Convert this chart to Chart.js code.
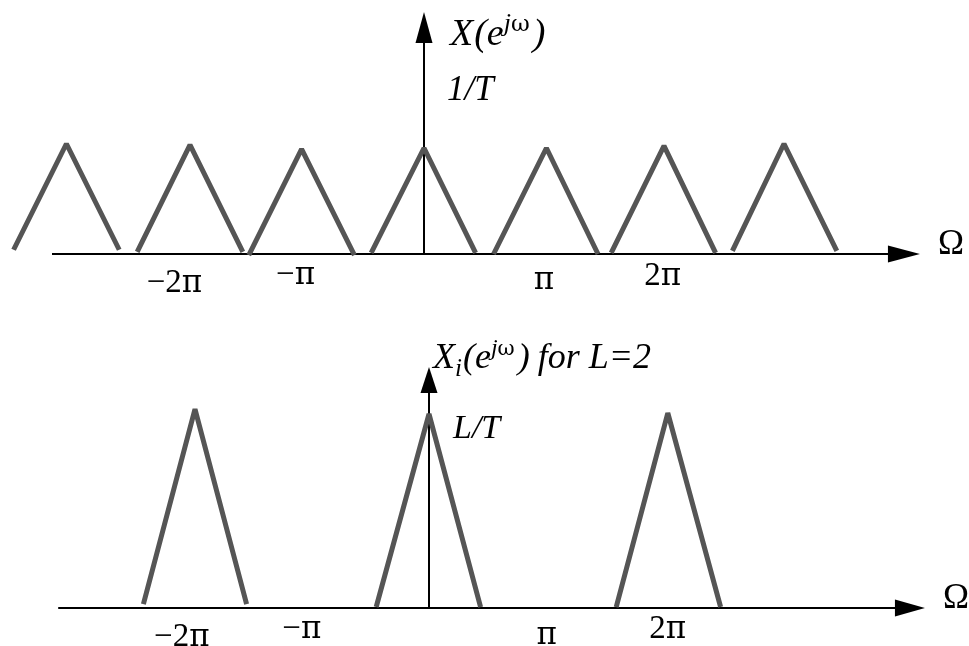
<!DOCTYPE html>
<html>
<head>
<meta charset="utf-8">
<script src="https://cdn.jsdelivr.net/npm/chart.js@4.4.1/dist/chart.umd.min.js"></script>
<style>
  html, body { margin: 0; padding: 0; background: #fff; }
  #wrap { position: relative; width: 969px; height: 646px; overflow: hidden; }
  .panel { position: absolute; left: 0; width: 969px; height: 323px; }
</style>
</head>
<body>
<div id="wrap">
  <div class="panel" style="top:0"><canvas id="spectrum" width="969" height="323"></canvas></div>
  <div class="panel" style="top:323px"><canvas id="upsampled" width="969" height="323"></canvas></div>
</div>
<script>
// Frequency values are in units of π; amplitudes in units of 1/T.
const tickLabels = ['\u22122\u03C0', '\u2212\u03C0', '\u03C0', '2\u03C0'];
const tickValuesTop = [-2.08, -1.07, 1.0, 1.99];
const tickValuesBottom = [-2.06, -1.06, 0.98, 1.99];

// X(e^jω): periodic triangular replicas
const topLeft   = [-3.42, -2.39, -1.46, -0.44, 0.58, 1.56, 2.57];
const topPeak   = [-2.98, -1.95, -1.02, 0.00, 1.02, 2.00, 3.00];
const topRight  = [-2.54, -1.51, -0.58, 0.43, 1.45, 2.43, 3.44];
const topHeight = [1.04, 1.03, 0.99, 1.00, 1.00, 1.02, 1.04];
const topBase   = [0.04, 0.02, -0.01, 0.01, 0.00, 0.01, 0.03];

// Xi(e^jω) for L = 2: compressed replicas with gain L
const botLeft   = [-2.38, -0.44, 1.56];
const botPeak   = [-1.95, 0.00, 1.99];
const botRight  = [-1.52, 0.43, 2.43];
const botHeight = [2.05, 2.00, 2.01];
const botBase   = [0.04, 0.01, 0.01];

const SERIF = '"Liberation Serif", "Times New Roman", serif';
const GREEK = '"DejaVu Serif", "Liberation Serif", serif';
const LINE = '#555555';

function triangles(left, peak, right, height, base) {
  return left.map((l, i) => ({
    data: [
      { x: l, y: base[i] },
      { x: peak[i], y: height[i] },
      { x: right[i], y: base[i] }
    ],
    borderColor: LINE,
    borderWidth: 5,
    borderJoinStyle: 'bevel',
    borderCapStyle: 'butt',
    pointRadius: 0,
    fill: false,
    tension: 0
  }));
}

function drawRuns(ctx, x, y, runs) {
  let cx = x;
  for (const r of runs) {
    ctx.font = r.font;
    ctx.fillText(r.t, cx + (r.dx || 0), y + (r.dy || 0));
    cx += ctx.measureText(r.t).width + (r.dx || 0) + (r.gap || 0);
  }
}

// Axes with arrow heads, tick labels and annotations
const sketchAxes = {
  id: 'sketchAxes',
  beforeDatasetsDraw(chart, args, o) {
    const { ctx, scales: { x, y } } = chart;
    const y0 = y.getPixelForValue(0);
    const x0 = x.getPixelForValue(0);
    ctx.save();
    ctx.strokeStyle = '#000';
    ctx.fillStyle = '#000';
    ctx.lineWidth = 2;
    // horizontal axis
    const xs = x.getPixelForValue(o.hFrom);
    const xe = x.getPixelForValue(o.hTo);
    ctx.beginPath();
    ctx.moveTo(xs, y0);
    ctx.lineTo(xe - o.headLen + 2, y0);
    ctx.stroke();
    ctx.beginPath();
    ctx.moveTo(xe, y0);
    ctx.lineTo(xe - o.headLen, y0 - o.headHalf);
    ctx.lineTo(xe - o.headLen, y0 + o.headHalf);
    ctx.closePath();
    ctx.fill();
    // vertical axis
    const yt = y.getPixelForValue(o.vTo);
    ctx.beginPath();
    ctx.moveTo(x0, y0);
    ctx.lineTo(x0, yt + o.vHeadLen - 2);
    ctx.stroke();
    ctx.beginPath();
    ctx.moveTo(x0, yt);
    ctx.lineTo(x0 - o.headHalf, yt + o.vHeadLen);
    ctx.lineTo(x0 + o.headHalf, yt + o.vHeadLen);
    ctx.closePath();
    ctx.fill();
    ctx.restore();
  },
  afterDatasetsDraw(chart, args, o) {
    const { ctx, scales: { x, y } } = chart;
    const y0 = y.getPixelForValue(0);
    const x0 = x.getPixelForValue(0);
    ctx.save();
    ctx.fillStyle = '#000';
    ctx.textBaseline = 'alphabetic';
    // tick labels under the frequency axis
    ctx.textAlign = 'left';
    const numFont = `33px ${SERIF}`;
    const piFont = `31px ${GREEK}`;
    o.ticks.forEach((v, i) => {
      const label = tickLabels[i];
      const num = label.slice(0, -1);
      const pi = label.slice(-1);
      ctx.font = numFont;
      const wNum = ctx.measureText(num).width;
      ctx.font = piFont;
      const wPi = ctx.measureText(pi).width;
      const left = x.getPixelForValue(v) - (wNum + wPi) / 2;
      const base = y0 + o.tickDrop[i];
      ctx.font = numFont;
      ctx.fillText(num, left, base);
      ctx.font = piFont;
      ctx.fillText(pi, left + wNum, base);
    });
    // axis name
    ctx.font = `35px ${SERIF}`;
    ctx.fillText('\u03A9', x.getPixelForValue(o.hTo) + 18, y0);
    // function name and level
    drawRuns(ctx, x0 + o.title.dx, o.title.y, o.title.runs);
    drawRuns(ctx, x0 + o.level.dx, o.level.y, o.level.runs);
    ctx.restore();
  }
};

function makeChart(id, datasets, xr, yr, axisOpts) {
  return new Chart(document.getElementById(id), {
    type: 'line',
    data: { datasets },
    options: {
      responsive: false,
      animation: false,
      devicePixelRatio: 1,
      events: [],
      layout: { padding: 0 },
      scales: {
        x: { type: 'linear', display: false, min: xr[0], max: xr[1] },
        y: { type: 'linear', display: false, min: yr[0], max: yr[1] }
      },
      plugins: {
        legend: { display: false },
        tooltip: { enabled: false },
        sketchAxes: axisOpts
      }
    },
    plugins: [sketchAxes]
  });
}

const it = (s) => `italic ${s}px ${SERIF}`;
const up = (s) => `${s}px ${GREEK}`;

makeChart('spectrum',
  triangles(topLeft, topPeak, topRight, topHeight, topBase),
  [-424 / 120, 545 / 120],
  [-69 / 106, 254 / 106],
  {
    hFrom: -3.1, hTo: 4.133, headLen: 32, headHalf: 8.5,
    vTo: 2.283, vHeadLen: 31,
    ticks: tickValuesTop,
    tickDrop: [38, 30, 35, 31],
    title: { dx: 26, y: 45, runs: [
      { t: 'X', font: it(38) },
      { t: '(', font: it(38), dx: 1 },
      { t: 'e', font: it(38) },
      { t: 'j', font: it(26), dy: -14 },
      { t: '\u03C9', font: up(23), dy: -14, gap: 3 },
      { t: ')', font: it(38) }
    ] },
    level: { dx: 23, y: 100, runs: [ { t: '1/T', font: it(35) } ] }
  }
);

makeChart('upsampled',
  triangles(botLeft, botPeak, botRight, botHeight, botBase),
  [-429 / 120, 540 / 120],
  [-38 / 97, 285 / 97],
  {
    hFrom: -3.09, hTo: 4.133, headLen: 30, headHalf: 8.5,
    vTo: 2.485, vHeadLen: 26,
    ticks: tickValuesBottom,
    tickDrop: [38, 30, 36, 30],
    title: { dx: 4, y: 45, runs: [
      { t: 'X', font: it(36) },
      { t: 'i', font: it(25), dy: 8 },
      { t: '(', font: it(36), dx: 1 },
      { t: 'e', font: it(36) },
      { t: 'j', font: it(24), dy: -13 },
      { t: '\u03C9', font: up(21), dy: -13, gap: 3 },
      { t: ')', font: it(36), gap: 8 },
      { t: 'for L=2', font: it(36), gap: 0 }
    ] },
    level: { dx: 24, y: 115, runs: [ { t: 'L/T', font: it(34) } ] }
  }
);
</script>
</body>
</html>
